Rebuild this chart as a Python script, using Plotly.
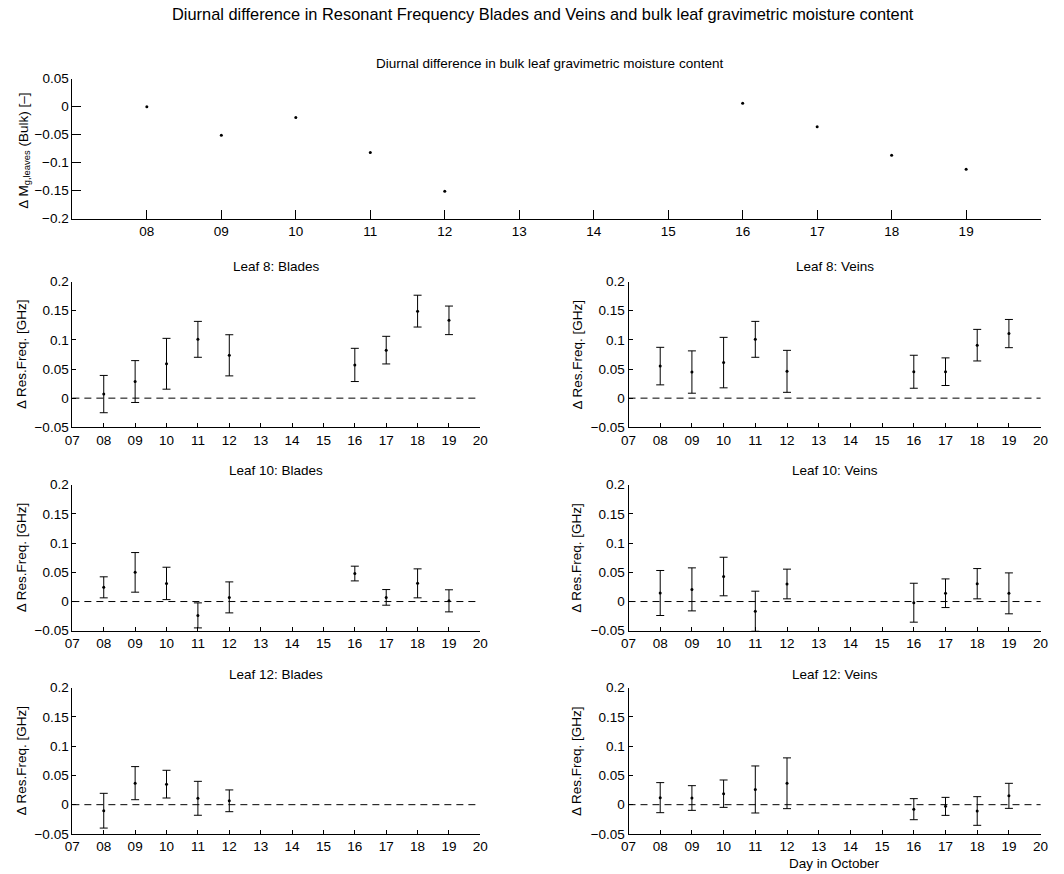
import plotly.graph_objects as go

W, H = 1064, 874
# layout positions are written in window pixels; the page body adds an
# offset and the capture is slightly reduced, which these constants undo
OFF_X, OFF_Y, SCALE = 8.4, 7.8, 0.984
FONT = "Liberation Sans, Arial, Helvetica, sans-serif"
FS = 13.5

# ---- data -------------------------------------------------------------
days = [8, 9, 10, 11, 12, 16, 17, 18, 19]
days_leaf12_blades = [8, 9, 10, 11, 12]

# diurnal difference in bulk leaf gravimetric moisture content
bulk_dmg = [0.0, -0.051, -0.0195, -0.082, -0.151, 0.006, -0.036, -0.087, -0.112]

# diurnal difference in resonant frequency [GHz] and its uncertainty
leaf8_blades = [0.007, 0.0285, 0.059, 0.1009, 0.0735, 0.057, 0.0824, 0.1493, 0.1335]
leaf8_blades_err = [0.032, 0.0359, 0.0436, 0.0308, 0.0353, 0.0285, 0.0237, 0.0273, 0.0245]

leaf8_veins = [0.055, 0.0448, 0.061, 0.1009, 0.046, 0.0453, 0.0454, 0.0909, 0.1108]
leaf8_veins_err = [0.0322, 0.0363, 0.0433, 0.0308, 0.036, 0.0283, 0.0237, 0.0271, 0.0242]

leaf10_blades = [0.0243, 0.0499, 0.031, -0.0237, 0.0071, 0.0479, 0.0071, 0.0311, 0.0012]
leaf10_blades_err = [0.018, 0.0339, 0.0277, 0.0214, 0.0265, 0.0126, 0.0134, 0.0248, 0.0189]

leaf10_veins = [0.0146, 0.0208, 0.0428, -0.0165, 0.030, -0.002, 0.0142, 0.0305, 0.014]
leaf10_veins_err = [0.0385, 0.0368, 0.033, 0.0342, 0.0254, 0.0333, 0.0245, 0.0259, 0.035]

leaf12_blades = [-0.0103, 0.0368, 0.0351, 0.0109, 0.0066]
leaf12_blades_err = [0.0297, 0.0283, 0.0237, 0.029, 0.0186]

leaf12_veins = [0.012, 0.0114, 0.0188, 0.026, 0.0366, -0.0077, -0.0029, -0.0108, 0.0151]
leaf12_veins_err = [0.0257, 0.0211, 0.0234, 0.0402, 0.0434, 0.018, 0.0154, 0.0245, 0.0214]

# tick labels
top_xticks = list(range(8, 20))
low_xticks = list(range(7, 21))
top_yticks = [0.05, 0.0, -0.05, -0.1, -0.15, -0.2]
top_ytext = ["0.05", "0", "\u22120.05", "\u22120.1", "\u22120.15", "\u22120.2"]
low_yticks = [0.2, 0.15, 0.1, 0.05, 0.0, -0.05]
low_ytext = ["0.2", "0.15", "0.1", "0.05", "0", "\u22120.05"]

panels = [
    ("Leaf 8: Blades", days, leaf8_blades, leaf8_blades_err),
    ("Leaf 8: Veins", days, leaf8_veins, leaf8_veins_err),
    ("Leaf 10: Blades", days, leaf10_blades, leaf10_blades_err),
    ("Leaf 10: Veins", days, leaf10_veins, leaf10_veins_err),
    ("Leaf 12: Blades", days_leaf12_blades, leaf12_blades, leaf12_blades_err),
    ("Leaf 12: Veins", days, leaf12_veins, leaf12_veins_err),
]


# ---- geometry (window pixels) -----------------------------------------
def px(x):
    return (x - OFF_X) / SCALE / W


def py(y):
    return 1 - (y - OFF_Y) / SCALE / H


def xdom(a, b):
    return [px(a), px(b)]


def ydom(top, bottom):
    return [py(bottom), py(top)]


cols = [(72.7, 480.3), (628.3, 1040.0)]
rows = [(282.7, 428.6), (486.0, 632.3), (689.3, 835.7)]
top_box = ((72.7, 1040.0), (79.5, 219.7))

axis_common = dict(
    showline=True, linecolor="black", linewidth=1, mirror=False,
    showgrid=False, zeroline=False, ticks="inside", tickcolor="black",
    tickwidth=1, tickfont=dict(family=FONT, size=FS, color="black"),
    fixedrange=True,
)

fig = go.Figure()
layout = dict(
    width=W, height=H, margin=dict(l=0, r=0, t=0, b=0),
    paper_bgcolor="white", plot_bgcolor="white", showlegend=False,
    font=dict(family=FONT, size=FS, color="black"),
)

# top panel: bulk moisture content
fig.add_trace(go.Scatter(
    x=days, y=bulk_dmg, mode="markers",
    marker=dict(color="black", size=3), xaxis="x", yaxis="y",
))
layout["xaxis"] = dict(axis_common, domain=xdom(*top_box[0]), range=[7, 20],
                       tickvals=top_xticks,
                       ticktext=["%02d" % d for d in top_xticks], ticklen=9,
                       anchor="y")
layout["yaxis"] = dict(axis_common, domain=ydom(*top_box[1]), range=[-0.2, 0.05],
                       tickvals=top_yticks, ticktext=top_ytext, ticklen=9,
                       anchor="x")

annotations = [
    dict(text="Diurnal difference in Resonant Frequency Blades and Veins and bulk leaf gravimetric moisture content",
         x=px(543), y=py(15), size=16.4),
    dict(text="Diurnal difference in bulk leaf gravimetric moisture content",
         x=px(549), y=py(64)),
    dict(text="\u0394 M<sub>g,leaves</sub> (Bulk) [\u2013]", x=px(24),
         y=py(152), textangle=-90),
]

shapes = []
for i, (title, xs, ys, errs) in enumerate(panels):
    r, c = divmod(i, 2)
    n = i + 2
    xa, ya = "x%d" % n, "y%d" % n
    fig.add_trace(go.Scatter(
        x=xs, y=ys, mode="markers",
        marker=dict(color="black", size=3),
        error_y=dict(type="data", array=errs, visible=True,
                     color="black", thickness=1, width=4),
        xaxis=xa, yaxis=ya,
    ))
    layout["xaxis%d" % n] = dict(axis_common, domain=xdom(*cols[c]), range=[7, 20],
                                 tickvals=low_xticks,
                                 ticktext=["%02d" % d for d in low_xticks],
                                 ticklen=4, anchor=ya)
    layout["yaxis%d" % n] = dict(axis_common, domain=ydom(*rows[r]), range=[-0.05, 0.2],
                                 tickvals=low_yticks, ticktext=low_ytext,
                                 ticklen=4, anchor=xa)
    # zero reference line
    shapes.append(dict(type="line", xref="%s domain" % xa, yref=ya,
                       x0=0, x1=1, y0=0, y1=0,
                       line=dict(color="black", width=1, dash="7px,5px")))
    cx = (cols[c][0] + cols[c][1]) / 2
    ty = [267.5, 471.5, 676.5][r]
    annotations.append(dict(text=title, x=px(cx), y=py(ty)))
    annotations.append(dict(text="\u0394 Res.Freq. [GHz]",
                            x=px([22, 577][c]),
                            y=py((rows[r][0] + rows[r][1]) / 2),
                            textangle=-90))

annotations.append(dict(text="Day in October",
                        x=px((cols[1][0] + cols[1][1]) / 2), y=py(865)))

for a in annotations:
    size = a.pop("size", FS)
    a.update(xref="paper", yref="paper", showarrow=False,
             xanchor="center", yanchor="middle",
             font=dict(family=FONT, size=size, color="black"))

layout["annotations"] = annotations
layout["shapes"] = shapes
fig.update_layout(**layout)

fig.write_html("out.html")
